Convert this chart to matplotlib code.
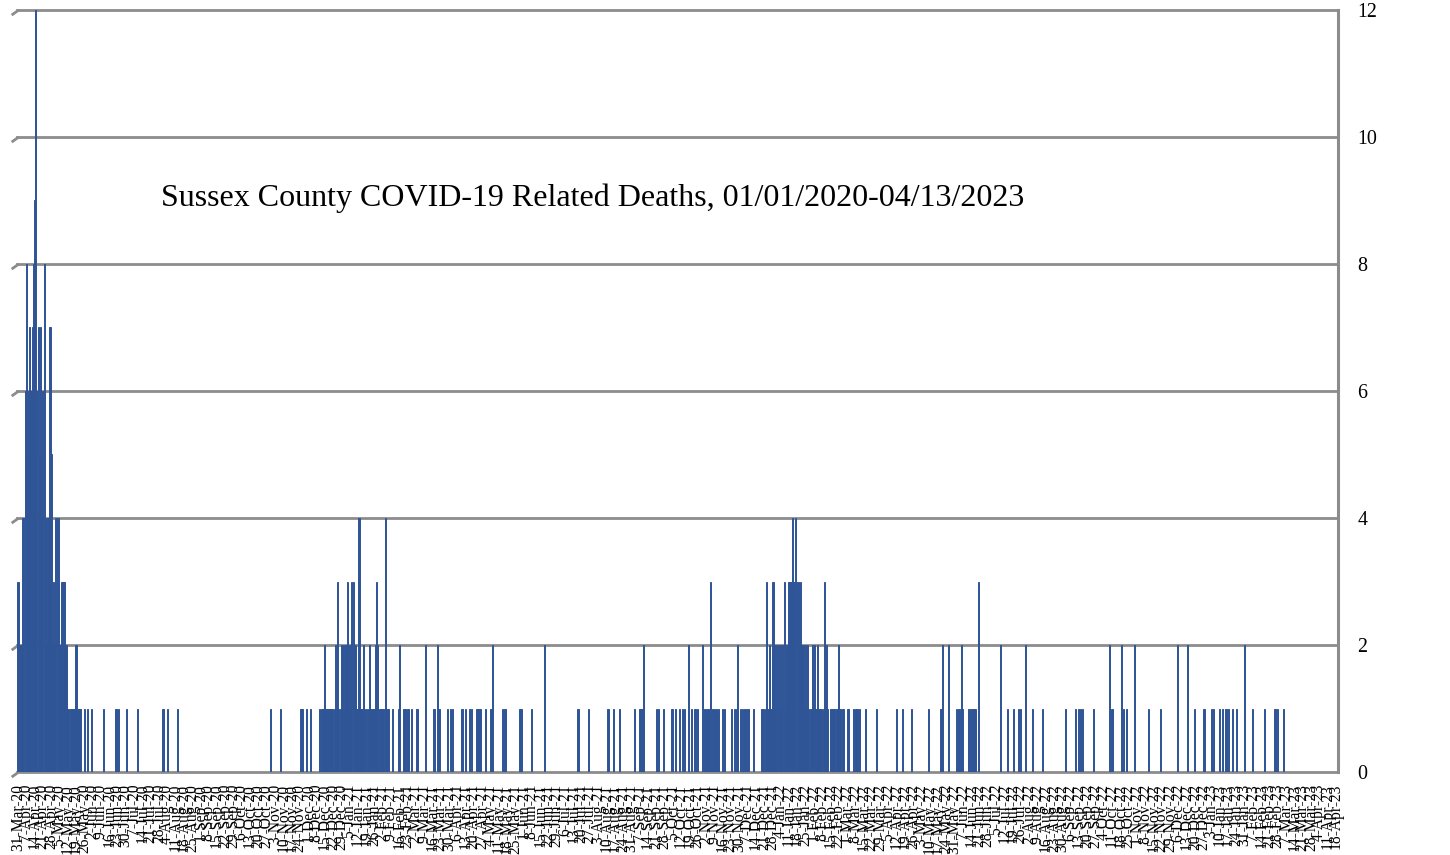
import numpy as np
import pandas as pd
import matplotlib
matplotlib.use("Agg")
import matplotlib.pyplot as plt

# ---------------- data ----------------
start_date = "2020-03-31"
end_date = "2023-04-18"
title = "Sussex County COVID-19 Related Deaths, 01/01/2020-04/13/2023"
y_ticks = [0, 2, 4, 6, 8, 10, 12]

# day offsets (from start_date) with non-zero deaths, and the deaths on that day
wave1_days = [0, 1, 2, 3, 4, 5, 6, 7, 8, 9, 10, 11, 12, 13, 14, 15, 16, 17, 18, 19, 20,
              21, 22, 23, 24, 25, 26, 27, 28, 29, 30, 31, 32, 33, 34, 35, 36, 37, 38, 39,
              40, 41, 42, 43, 44, 45, 46, 47, 48, 49, 50, 51, 52, 53, 56, 59, 62, 72, 82,
              83, 85, 92, 101, 122, 123, 126, 135]
wave1_vals = [3, 2, 2, 2, 4, 4, 6, 8, 5, 6, 7, 6, 7, 8, 9, 12, 6, 7, 5, 7, 4,
              6, 8, 4, 2, 4, 4, 7, 5, 2, 3, 2, 4, 4, 4, 2, 2, 3, 3, 3,
              2, 2, 1, 1, 1, 1, 1, 1, 1, 2, 1, 1, 1, 1, 1, 1, 1, 1, 1,
              1, 1, 1, 1, 1, 1, 1, 1]

wave2_days = [213, 222, 239, 240, 244, 247, 255, 256, 257, 258, 259, 260, 261, 262, 263,
              264, 265, 266, 267, 268, 269, 270, 271, 272, 273, 274, 275, 276, 277, 278,
              279, 280, 281, 282, 283, 284, 285, 286, 287, 288, 289, 290, 291, 292, 293,
              294, 296, 297, 298, 299, 300, 301, 302, 303, 304, 305, 306, 307, 308, 309,
              310, 311, 312, 313, 316, 321, 322, 326, 327, 329, 330, 332, 337, 344, 351,
              352, 354, 355, 356, 363]
wave2_vals = [1, 1, 1, 1, 1, 1, 1, 1, 1, 1, 2, 1, 1, 1, 1,
              1, 1, 1, 1, 2, 1, 3, 1, 1, 2, 2, 1, 2, 2, 3,
              2, 1, 2, 3, 3, 2, 2, 1, 1, 4, 1, 1, 1, 2, 1,
              1, 1, 2, 1, 1, 1, 1, 2, 3, 2, 1, 1, 1, 1, 1,
              4, 1, 1, 1, 1, 1, 2, 1, 1, 1, 1, 1, 1, 2, 1,
              1, 2, 1, 1, 1]

wave3_days = [365, 367, 375, 378, 381, 383, 387, 388, 389, 390, 391, 395, 399, 400, 401,
              409, 411, 412, 424, 425, 434, 445, 473, 482, 498, 499, 503, 508, 521, 525,
              526, 527, 528, 539, 541, 545]
wave3_vals = [1, 1, 1, 1, 1, 1, 1, 1, 1, 1, 1, 1, 1, 1, 2,
              1, 1, 1, 1, 1, 1, 2, 1, 1, 1, 1, 1, 1, 1, 1,
              1, 1, 2, 1, 1, 1]

wave4_days = [552, 553, 555, 559, 561, 563, 566, 569, 571, 572, 574, 578, 580, 581, 582,
              583, 585, 587, 589, 590, 592, 595, 597, 603, 605, 607, 608, 610, 612, 614,
              616, 617, 621, 628, 629, 630, 631, 632, 633, 634, 635, 636, 637, 638, 639,
              640, 641, 642, 643, 644, 645, 646, 647, 648, 649, 650, 651, 652, 653, 654,
              655, 656, 657, 658, 659, 660, 661, 662, 663, 664, 665, 666, 667, 668, 669,
              670, 671, 672, 673, 674, 675, 676, 677, 678, 679, 680, 681, 682, 683, 684,
              686, 687, 688, 689, 690, 691, 692, 693, 694, 695, 696, 697, 701, 706, 707,
              708, 709, 711, 716, 725]
wave4_vals = [1, 1, 1, 1, 1, 1, 2, 1, 1, 1, 1, 2, 1, 1, 1,
              1, 3, 1, 1, 1, 1, 1, 1, 1, 1, 1, 2, 1, 1, 1,
              1, 1, 1, 1, 1, 1, 1, 3, 1, 1, 2, 1, 3, 3, 2,
              1, 2, 2, 1, 2, 1, 2, 3, 1, 2, 2, 3, 3, 3, 4,
              3, 3, 4, 3, 3, 2, 3, 2, 2, 1, 2, 1, 2, 1, 1,
              1, 2, 1, 2, 1, 2, 1, 1, 1, 1, 1, 3, 1, 2, 1,
              1, 1, 1, 1, 1, 1, 1, 2, 1, 1, 1, 1, 1, 1, 1,
              1, 1, 1, 1, 1]

wave5_days = [742, 747, 755, 769, 779, 780, 781, 786, 793, 794, 795, 797, 798, 803, 804,
              805, 806, 807, 808, 809, 811, 830, 836, 841, 845, 847, 851, 857, 865, 885,
              893, 896, 897, 899, 908, 922, 924, 932, 934, 936, 943, 955, 965, 979, 988,
              994, 1001, 1002, 1008, 1010, 1015, 1017, 1020, 1021, 1022, 1026, 1029, 1036,
              1043, 1053, 1061, 1062, 1064, 1069]
wave5_vals = [1, 1, 1, 1, 1, 1, 2, 2, 1, 1, 1, 2, 1, 1, 1,
              1, 1, 1, 1, 1, 3, 2, 1, 1, 1, 1, 2, 1, 1, 1,
              1, 1, 1, 1, 1, 2, 1, 2, 1, 1, 2, 1, 1, 2, 2,
              1, 1, 1, 1, 1, 1, 1, 1, 1, 1, 1, 1, 2,
              1, 1, 1, 1, 1, 1]

# ---------------- build series ----------------
days = np.array(wave1_days + wave2_days + wave3_days + wave4_days + wave5_days)
vals = np.array(wave1_vals + wave2_vals + wave3_vals + wave4_vals + wave5_vals)
start = pd.Timestamp(start_date)
end = pd.Timestamp(end_date)
n_days = (end - start).days

plt.rcParams['font.family'] = ['Liberation Serif', 'DejaVu Serif']

W, H = 1450, 855
fig = plt.figure(figsize=(W / 100, H / 100), dpi=100)
ax_left, ax_right, ax_top, ax_bot = 17, 1338, 10, 772
ax = fig.add_axes([ax_left / W, 1 - ax_bot / H, (ax_right - ax_left) / W, (ax_bot - ax_top) / H])

px_per_day = 1.184
x0 = -(18 - ax_left) / px_per_day
x1 = (ax_right - 18) / px_per_day
ax.set_xlim(x0, x1)
ax.set_ylim(0, 12)

grid_col = '#8c8c8c'
for v in y_ticks:
    ax.axhline(v, color=grid_col, lw=2.0, zorder=1, clip_on=False)
    ax.plot([x0 - 4.5, x0 + 1.5], [v - 0.08, v], color=grid_col, lw=2.0,
            clip_on=False, zorder=1, solid_capstyle='butt')
ax.axvline(x1, color=grid_col, lw=2.2, zorder=1, clip_on=False)

ax.bar(days, vals, width=0.9, color='#2f5597', edgecolor='#2f5597', linewidth=0.7,
       zorder=3)

for s in ax.spines.values():
    s.set_visible(False)

ax.yaxis.tick_right()
ax.set_yticks(y_ticks)
ax.set_yticklabels([str(t) for t in y_ticks], fontsize=14.4)
ax.tick_params(axis='y', length=0, pad=14)

tick_days = np.arange(0, n_days + 1, 7)
tick_labels = []
for d in tick_days:
    dt = start + pd.Timedelta(days=int(d))
    tick_labels.append(f"{dt.day}-{dt.strftime('%b-%y')}")
ax.set_xticks(tick_days)
ax.set_xticklabels(tick_labels, rotation=90, fontsize=11.2, va='top', ha='center')
ax.tick_params(axis='x', length=0, pad=8.5)

fig.text(593 / W, 1 - 198 / H, title, ha='center', va='center', fontsize=23)

fig.savefig('out.png', dpi=100)
